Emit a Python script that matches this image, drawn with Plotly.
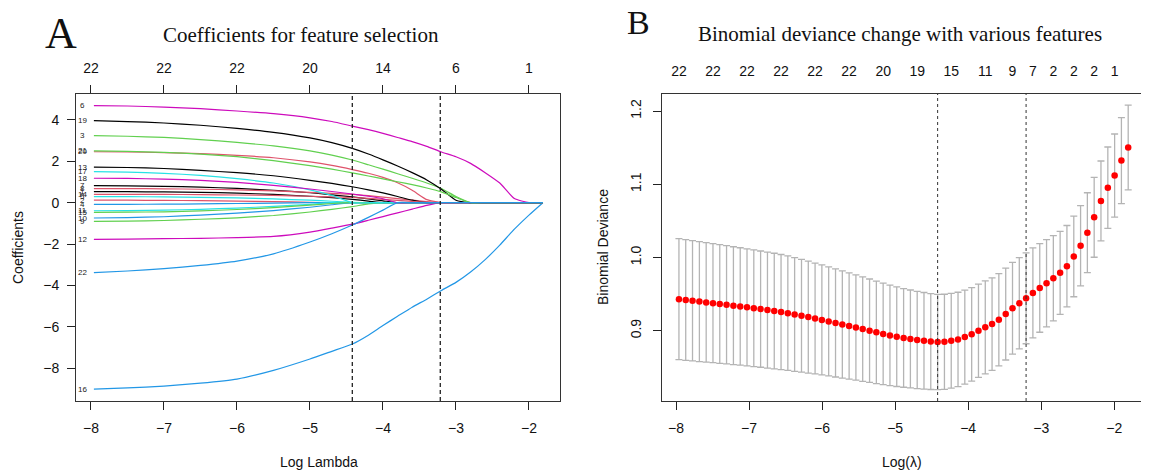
import plotly.graph_objects as go

# ---- panel A: lasso coefficient paths (glmnet style) ----
KNOTS = [-7.96, -7.5, -7.0, -6.5, -6.0, -5.5, -5.0, -4.7, -4.42, -4.2, -4.0,
         -3.8, -3.6, -3.4, -3.2, -3.0, -2.8, -2.6, -2.4, -2.2, -2.0, -1.81]

beta_1 = [0.53, 0.53, 0.52, 0.50, 0.46, 0.40, 0.31, 0.24, 0.16, 0.08, 0, 0, 0, 0, 0, 0, 0, 0, 0, 0, 0, 0]
beta_2 = [0.12, 0.12, 0.11, 0.10, 0.08, 0.05, 0.02, 0, 0, 0, 0, 0, 0, 0, 0, 0, 0, 0, 0, 0, 0, 0]
beta_3 = [3.24, 3.21, 3.15, 3.05, 2.91, 2.74, 2.50, 2.30, 2.06, 1.83, 1.62, 1.40, 1.18, 0.95, 0.68, 0.30, 0, 0, 0, 0, 0, 0]
beta_4 = [-0.08, -0.08, -0.07, -0.06, -0.04, -0.02, 0, 0, 0, 0, 0, 0, 0, 0, 0, 0, 0, 0, 0, 0, 0, 0]
beta_5 = [0.29, 0.29, 0.28, 0.26, 0.23, 0.18, 0.12, 0.07, 0.02, 0, 0, 0, 0, 0, 0, 0, 0, 0, 0, 0, 0, 0]
beta_6 = [4.69, 4.67, 4.62, 4.54, 4.43, 4.30, 4.10, 3.92, 3.70, 3.53, 3.35, 3.15, 2.95, 2.72, 2.45, 2.22, 1.90, 1.45, 0.95, 0.20, 0, 0]
beta_7 = [0.82, 0.81, 0.79, 0.75, 0.69, 0.60, 0.48, 0.38, 0.28, 0.18, 0.09, 0, 0, 0, 0, 0, 0, 0, 0, 0, 0, 0]
beta_8 = [0.68, 0.68, 0.67, 0.65, 0.62, 0.57, 0.50, 0.45, 0.40, 0.34, 0.27, 0.20, 0.12, 0.05, 0, 0, 0, 0, 0, 0, 0, 0]
beta_9 = [-0.90, -0.89, -0.86, -0.80, -0.73, -0.62, -0.45, -0.32, -0.19, -0.06, 0, 0, 0, 0, 0, 0, 0, 0, 0, 0, 0, 0]
beta_10 = [-0.74, -0.72, -0.68, -0.60, -0.50, -0.38, -0.22, -0.10, 0, 0, 0, 0, 0, 0, 0, 0, 0, 0, 0, 0, 0, 0]
beta_11 = [-0.39, -0.38, -0.36, -0.32, -0.26, -0.18, -0.08, 0, 0, 0, 0, 0, 0, 0, 0, 0, 0, 0, 0, 0, 0, 0]
beta_12 = [-1.77, -1.76, -1.74, -1.72, -1.69, -1.63, -1.42, -1.23, -1.04, -0.85, -0.67, -0.49, -0.31, -0.13, 0, 0, 0, 0, 0, 0, 0, 0]
beta_13 = [1.72, 1.70, 1.65, 1.56, 1.45, 1.30, 1.08, 0.93, 0.77, 0.62, 0.47, 0.30, 0.12, 0, 0, 0, 0, 0, 0, 0, 0, 0]
beta_14 = [0.40, 0.40, 0.40, 0.39, 0.37, 0.35, 0.31, 0.28, 0.25, 0.21, 0.16, 0.11, 0.06, 0.02, 0, 0, 0, 0, 0, 0, 0, 0]
beta_15 = [-0.47, -0.46, -0.44, -0.40, -0.33, -0.24, -0.12, -0.04, 0, 0, 0, 0, 0, 0, 0, 0, 0, 0, 0, 0, 0, 0]
beta_16 = [-9.01, -8.95, -8.86, -8.72, -8.52, -8.10, -7.55, -7.18, -6.83, -6.40, -5.93, -5.49, -5.05, -4.66, -4.24, -3.85, -3.35, -2.75, -2.05, -1.28, -0.60, 0]
beta_17 = [1.50, 1.48, 1.42, 1.32, 1.16, 0.95, 0.62, 0.35, 0, 0, 0, 0, 0, 0, 0, 0, 0, 0, 0, 0, 0, 0]
beta_18 = [1.18, 1.17, 1.14, 1.08, 0.98, 0.84, 0.66, 0.54, 0.42, 0.31, 0.19, 0, 0, 0, 0, 0, 0, 0, 0, 0, 0, 0]
beta_19 = [3.96, 3.92, 3.85, 3.74, 3.59, 3.40, 3.13, 2.90, 2.62, 2.35, 2.07, 1.77, 1.45, 1.10, 0.65, 0.12, 0, 0, 0, 0, 0, 0]
beta_20 = [2.46, 2.45, 2.42, 2.37, 2.29, 2.17, 1.97, 1.80, 1.60, 1.42, 1.22, 0.96, 0.60, 0.15, 0, 0, 0, 0, 0, 0, 0, 0]
beta_21 = [2.50, 2.48, 2.43, 2.35, 2.22, 2.03, 1.79, 1.62, 1.44, 1.29, 1.15, 1.01, 0.87, 0.71, 0.52, 0.25, 0, 0, 0, 0, 0, 0]
beta_22 = [-3.38, -3.30, -3.19, -3.03, -2.82, -2.47, -1.90, -1.50, -1.08, -0.71, -0.36, 0, 0, 0, 0, 0, 0, 0, 0, 0, 0, 0]

BETAS = [beta_1, beta_2, beta_3, beta_4, beta_5, beta_6, beta_7, beta_8, beta_9, beta_10, beta_11,
         beta_12, beta_13, beta_14, beta_15, beta_16, beta_17, beta_18, beta_19, beta_20, beta_21, beta_22]

A_TOP_TICKS = [-8, -7, -6, -5, -4, -3, -2]
A_TOP_COUNTS = ["22", "22", "22", "20", "14", "6", "1"]
A_CUTS = [-4.42, -3.215]

# ---- panel B: cross-validated binomial deviance ----
LOG_LAMBDA = [-7.960, -7.867, -7.774, -7.680, -7.587, -7.494, -7.401, -7.308, -7.214, -7.121,
              -7.028, -6.935, -6.842, -6.748, -6.655, -6.562, -6.469, -6.376, -6.282, -6.189,
              -6.096, -6.003, -5.910, -5.816, -5.723, -5.630, -5.537, -5.444, -5.350, -5.257,
              -5.164, -5.071, -4.978, -4.884, -4.791, -4.698, -4.605, -4.512, -4.418, -4.325,
              -4.232, -4.139, -4.046, -3.952, -3.859, -3.766, -3.673, -3.580, -3.486, -3.393,
              -3.300, -3.207, -3.114, -3.020, -2.927, -2.834, -2.741, -2.648, -2.554, -2.461,
              -2.368, -2.275, -2.182, -2.088, -1.995, -1.902, -1.809]
DEVIANCE = [0.9431, 0.9420, 0.9409, 0.9398, 0.9387, 0.9376, 0.9365, 0.9354, 0.9342, 0.9331,
            0.9319, 0.9307, 0.9295, 0.9282, 0.9269, 0.9255, 0.9240, 0.9222, 0.9204, 0.9186,
            0.9167, 0.9147, 0.9127, 0.9106, 0.9085, 0.9064, 0.9043, 0.9022, 0.9000, 0.8978,
            0.8956, 0.8936, 0.8918, 0.8902, 0.8887, 0.8873, 0.8862, 0.8852, 0.8846, 0.8849,
            0.8862, 0.8881, 0.8913, 0.8950, 0.9000, 0.9046, 0.9091, 0.9151, 0.9228, 0.9306,
            0.9374, 0.9443, 0.9516, 0.9584, 0.9648, 0.9717, 0.9790, 0.9881, 1.0014, 1.0160,
            1.0338, 1.0548, 1.0772, 1.0954, 1.1119, 1.1324, 1.1502]
DEV_SD = [0.0827, 0.0824, 0.0821, 0.0819, 0.0816, 0.0813, 0.0810, 0.0808, 0.0805, 0.0802,
          0.0800, 0.0797, 0.0794, 0.0792, 0.0789, 0.0786, 0.0783, 0.0777, 0.0770, 0.0764,
          0.0757, 0.0751, 0.0745, 0.0738, 0.0732, 0.0725, 0.0719, 0.0713, 0.0706, 0.0700,
          0.0693, 0.0687, 0.0680, 0.0674, 0.0669, 0.0664, 0.0660, 0.0655, 0.0651, 0.0649,
          0.0647, 0.0644, 0.0642, 0.0639, 0.0637, 0.0635, 0.0632, 0.0630, 0.0628, 0.0626,
          0.0623, 0.0621, 0.0615, 0.0605, 0.0595, 0.0582, 0.0566, 0.0556, 0.0550, 0.0548,
          0.0546, 0.0545, 0.0546, 0.0555, 0.0568, 0.0587, 0.0578]
B_TOP_IDX = [0, 5, 10, 15, 20, 25, 30, 35, 40, 45, 49, 52, 55, 58, 61, 64]
B_TOP_COUNTS = ["22", "22", "22", "22", "22", "22", "20", "19", "15", "11", "9", "7", "2", "2", "2", "1"]
B_CUTS = [-4.418, -3.207]

R_PALETTE = ["#000000", "#DF536B", "#61D04F", "#2297E6", "#28E2E5", "#CD0BBC"]
SANS = "Liberation Sans, Arial, sans-serif"
SERIF = "Liberation Serif, Times New Roman, serif"

# the html page body has an 8px margin, so the figure is drawn 8px in from the window corner
OFF = 8
W, H = 1149 - OFF, 470 - OFF


def px_x(v):
    return (v - OFF) / W


def px_y(v):
    return 1 - (v - OFF) / H


fig = go.Figure()

for j, beta in enumerate(BETAS):
    fig.add_trace(go.Scatter(
        x=KNOTS, y=beta, mode="lines",
        line=dict(color=R_PALETTE[j % 6], width=1.2, shape="spline", smoothing=0.5),
        xaxis="x", yaxis="y", showlegend=False, hoverinfo="skip"
    ))

fig.add_trace(go.Scatter(
    x=LOG_LAMBDA, y=DEVIANCE, mode="markers",
    marker=dict(color="#FF0000", size=6.5),
    error_y=dict(type="data", array=DEV_SD, color="#B4B4B4", thickness=1.3, width=3.5),
    xaxis="x2", yaxis="y2", showlegend=False, hoverinfo="skip"
))

# invisible helpers so the top axes are drawn
fig.add_trace(go.Scatter(x=[-5], y=[0], mode="markers", marker=dict(opacity=0),
                         xaxis="x3", yaxis="y", showlegend=False, hoverinfo="skip"))
fig.add_trace(go.Scatter(x=[-5], y=[1.0], mode="markers", marker=dict(opacity=0),
                         xaxis="x4", yaxis="y2", showlegend=False, hoverinfo="skip"))

shapes = []
for c in A_CUTS:
    shapes.append(dict(type="line", xref="x", yref="y domain", x0=c, x1=c, y0=0, y1=1,
                       line=dict(color="#222222", width=1.3, dash="4px,3px")))
for c in B_CUTS:
    shapes.append(dict(type="line", xref="x2", yref="y2 domain", x0=c, x1=c, y0=0, y1=1,
                       line=dict(color="#333333", width=1, dash="dot")))

annotations = []
for j, beta in enumerate(BETAS):
    annotations.append(dict(x=-8.115, y=beta[0], xref="x", yref="y", text=str(j + 1),
                            showarrow=False, font=dict(family=SANS, size=8, color="#222222"),
                            xanchor="center", yanchor="middle"))

text_items = [
    ("A", 61, 34, SERIF, 44, 0),
    ("B", 638, 23, SERIF, 34, 0),
    ("Coefficients for feature selection", 301, 35, SERIF, 21, 0),
    ("Binomial deviance change with various features", 900, 34, SERIF, 21, 0),
    ("Coefficients", 18, 248, SANS, 14, -90),
    ("Binomial Deviance", 603, 247, SANS, 14, -90),
    ("Log Lambda", 319, 462, SANS, 14, 0),
    ("Log(λ)", 902, 462, SANS, 14, 0),
]
for text, x, y, fam, size, ang in text_items:
    annotations.append(dict(x=px_x(x), y=px_y(y), xref="paper", yref="paper", text=text,
                            showarrow=False, textangle=ang, xanchor="center", yanchor="middle",
                            font=dict(family=fam, size=size, color="#111111")))

axis_common = dict(showgrid=False, zeroline=False, showline=True, mirror=True,
                   linecolor="#333333", linewidth=1, ticks="outside", ticklen=8,
                   tickwidth=1, tickcolor="#222222",
                   tickfont=dict(family=SANS, size=14, color="#111111"))

dom_y = [px_y(401), px_y(94)]

fig.update_layout(
    width=W, height=H,
    margin=dict(l=0, r=0, t=0, b=0),
    paper_bgcolor="white", plot_bgcolor="white",
    showlegend=False,
    xaxis=dict(domain=[px_x(76), px_x(560)], range=[-8.205, -1.575], anchor="y",
               tickvals=[-8, -7, -6, -5, -4, -3, -2], ticklabelstandoff=6, **axis_common),
    yaxis=dict(domain=dom_y, range=[-9.58, 5.25], anchor="x",
               tickvals=[-8, -6, -4, -2, 0, 2, 4], ticklabelstandoff=5, **axis_common),
    xaxis3=dict(overlaying="x", side="top", anchor="y", range=[-8.205, -1.575],
                tickvals=A_TOP_TICKS, ticktext=A_TOP_COUNTS, ticks="outside", ticklen=8,
                tickwidth=1, tickcolor="#222222", showline=False, showgrid=False,
                zeroline=False, tickangle=0, ticklabelstandoff=6,
                tickfont=dict(family=SANS, size=14, color="#111111")),
    xaxis2=dict(domain=[px_x(661.7), px_x(1142.3)], range=[-8.196, -1.616], anchor="y2",
                tickvals=[-8, -7, -6, -5, -4, -3, -2], ticklabelstandoff=6, **axis_common),
    yaxis2=dict(domain=dom_y, range=[0.804, 1.2233], anchor="x2",
                tickvals=[0.9, 1.0, 1.1, 1.2], ticktext=["0.9", "1.0", "1.1", "1.2"],
                tickangle=-90, ticklabelstandoff=6, **axis_common),
    xaxis4=dict(overlaying="x2", side="top", anchor="y2", range=[-8.196, -1.616],
                tickvals=[LOG_LAMBDA[i] for i in B_TOP_IDX], ticktext=B_TOP_COUNTS,
                ticks="", showline=False, showgrid=False, zeroline=False, tickangle=0,
                ticklabelstandoff=14,
                tickfont=dict(family=SANS, size=14, color="#111111")),
    shapes=shapes,
    annotations=annotations,
)

fig.write_html("out.html")
